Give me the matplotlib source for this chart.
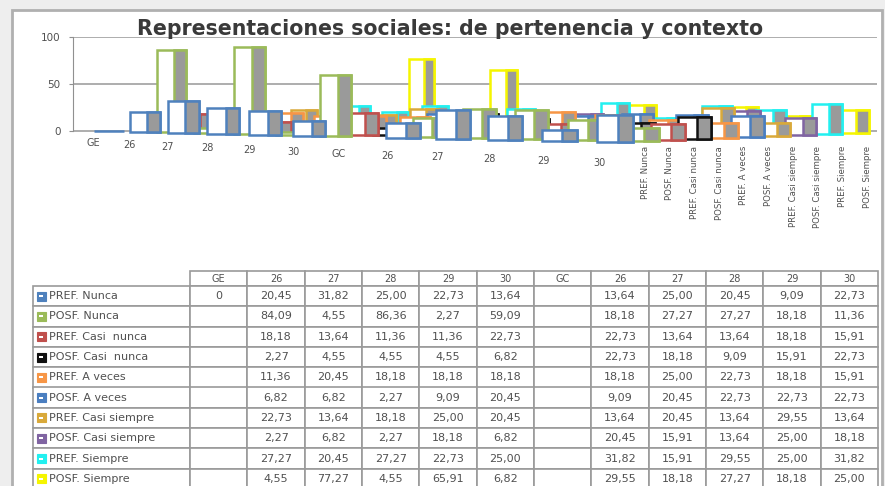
import matplotlib
matplotlib.use("Agg")
import matplotlib.pyplot as plt
from matplotlib.patches import Rectangle
from matplotlib.table import Table

# data
columns = ['GE', '26', '27', '28', '29', '30', 'GC', '26', '27', '28', '29', '30']
series_names = ['PREF. Nunca', 'POSF. Nunca', 'PREF. Casi  nunca', 'POSF. Casi  nunca',
                'PREF. A veces', 'POSF. A veces', 'PREF. Casi siempre', 'POSF. Casi siempre',
                'PREF. Siempre', 'POSF. Siempre']

pref_nunca = [0, 20.45, 31.82, 25.00, 22.73, 13.64, None, 13.64, 25.00, 20.45, 9.09, 22.73]
posf_nunca = [None, 84.09, 4.55, 86.36, 2.27, 59.09, None, 18.18, 27.27, 27.27, 18.18, 11.36]
pref_casi_nunca = [None, 18.18, 13.64, 11.36, 11.36, 22.73, None, 22.73, 13.64, 13.64, 18.18, 15.91]
posf_casi_nunca = [None, 2.27, 4.55, 4.55, 4.55, 6.82, None, 22.73, 18.18, 9.09, 15.91, 22.73]
pref_a_veces = [None, 11.36, 20.45, 18.18, 18.18, 18.18, None, 18.18, 25.00, 22.73, 18.18, 15.91]
posf_a_veces = [None, 6.82, 6.82, 2.27, 9.09, 20.45, None, 9.09, 20.45, 22.73, 22.73, 22.73]
pref_casi_siempre = [None, 22.73, 13.64, 18.18, 25.00, 20.45, None, 13.64, 20.45, 13.64, 29.55, 13.64]
posf_casi_siempre = [None, 2.27, 6.82, 2.27, 18.18, 6.82, None, 20.45, 15.91, 13.64, 25.00, 18.18]
pref_siempre = [None, 27.27, 20.45, 27.27, 22.73, 25.00, None, 31.82, 15.91, 29.55, 25.00, 31.82]
posf_siempre = [None, 4.55, 77.27, 4.55, 65.91, 6.82, None, 29.55, 18.18, 27.27, 18.18, 25.00]

all_series = [pref_nunca, posf_nunca, pref_casi_nunca, posf_casi_nunca, pref_a_veces,
              posf_a_veces, pref_casi_siempre, posf_casi_siempre, pref_siempre, posf_siempre]
colors = ['#4F81BD', '#9BBB59', '#C0504D', '#111111', '#F79646',
          '#4A7EC0', '#D9A93A', '#8064A2', '#22F0F0', '#F5F500']

text_col = '#505050'
px_per_unit = 0.94  # back wall scale


# fake 3d layout: series go back in depth (k), categories along front (i)
def xc(i, k):
    return 35 * i + i ** 2 + 26.5 * k

def base(i, k):
    px = i * ((1 - k / 9) * 1.0 + (k / 9) * 0.2)
    return -px / px_per_unit

def grow(i, k):
    return (0.94 + (1 - k / 9) ** 4 * (0.04 + 0.02 * i)) / px_per_unit

def bar_w(i, k):
    return 30 + 0.5 * i - 0.6 * k


fig = plt.figure(figsize=(8.85, 4.86), dpi=100)
fig.patch.set_facecolor('#eeeeee')
fig.add_artist(Rectangle((12 / 885, -0.01), 870 / 885, (476 / 486) + 0.01,
                         transform=fig.transFigure, facecolor='white',
                         edgecolor='#b0b0b0', lw=2, zorder=0))

ax = fig.add_axes([73 / 885, (486 - 270) / 486, 804 / 885, 233 / 486])
ax.set_facecolor('none')
ax.set_xlim(-36, 768)
ax.set_ylim(-(270 - 131) / px_per_unit, 100)

# back to front so the nearer bars cover the others
for k in range(len(all_series) - 1, -1, -1):
    vals = all_series[k]
    col = colors[k]
    for i, v in enumerate(vals):
        if v is None:
            continue
        w = bar_w(i, k)
        x0 = xc(i, k) - w / 2
        y0 = base(i, k)
        h = v * grow(i, k)
        ax.add_patch(Rectangle((x0, y0), w, h, facecolor='white', edgecolor=col,
                               lw=1.8, zorder=10 - k))
        if v > 0:
            ax.add_patch(Rectangle((x0 + 0.58 * w, y0), 0.42 * w, h, facecolor='#9a9a9a',
                                   edgecolor=col, lw=1.8, zorder=10 - k))

# axis, grid
ax.set_yticks([0, 50, 100])
ax.set_yticklabels(['0', '50', '100'], fontsize=7.5, color=text_col)
ax.set_xticks([])
for s in ['top', 'right', 'bottom']:
    ax.spines[s].set_visible(False)
ax.spines['left'].set_bounds(0, 100)
ax.spines['left'].set_color('#909090')
ax.tick_params(axis='y', length=3, color='#909090', pad=6)
ax.yaxis.grid(True, color='#a0a0a0', lw=1.2)
ax.set_axisbelow(True)

# category labels along the front edge
for i, c in enumerate(columns):
    ax.text(xc(i, 0) - 16, -(12 + 1.8 * i) / px_per_unit, c, ha='center', va='center',
            fontsize=7, color=text_col)

# series labels along the depth axis
for k, name in enumerate(series_names):
    ax.text(536 + 24.7 * k, -15 / px_per_unit, name.replace('  ', ' '), rotation=90,
            ha='center', va='top', fontsize=6.2, color=text_col)

fig.text(450 / 885, (486 - 35) / 486, 'Representaciones sociales: de pertenencia y contexto',
         ha='center', va='baseline', fontsize=14.8, fontweight='bold', color='#3a3a3a')

# data table
def fmt(v):
    if v is None:
        return ''
    if v == 0:
        return '0'
    return f'{v:.2f}'.replace('.', ',')

tax = fig.add_axes([33 / 885, (486 - 489) / 486, 845 / 885, 218 / 486])
tax.axis('off')
tab = Table(tax, bbox=[0, 0, 1, 1])
tab.auto_set_font_size(False)
label_w, col_w, head_h, row_h = 157, 57.3, 15, 20.3
for j, c in enumerate(columns):
    cell = tab.add_cell(0, j + 1, col_w, head_h, text=c, loc='center')
    cell.get_text().set_fontsize(7)
for r, (name, s) in enumerate(zip(series_names, all_series)):
    cell = tab.add_cell(r + 1, 0, label_w, row_h, text=name, loc='left')
    cell.get_text().set_fontsize(8)
    for j, v in enumerate(s):
        cell = tab.add_cell(r + 1, j + 1, col_w, row_h, text=fmt(v), loc='center')
        cell.get_text().set_fontsize(8)
for cell in tab.get_celld().values():
    cell.set_edgecolor('#9a9a9a')
    cell.set_linewidth(1.2)
    cell.get_text().set_color(text_col)
tax.add_table(tab)

# legend keys in the row label cells
for r, col in enumerate(colors):
    yc = 1 - (head_h + (r + 0.5) * row_h) / 218
    tax.add_patch(Rectangle((4 / 845, yc - 4.5 / 218), 9 / 845, 9 / 218,
                            transform=tax.transAxes, facecolor=col, edgecolor=col,
                            lw=0.8, zorder=5, clip_on=False))
    tax.add_patch(Rectangle((6 / 845, yc - 1 / 218), 4 / 845, 2 / 218,
                            transform=tax.transAxes, facecolor='white', edgecolor='none',
                            zorder=6, clip_on=False))

fig.savefig('out.png', dpi=100, facecolor=fig.get_facecolor())
